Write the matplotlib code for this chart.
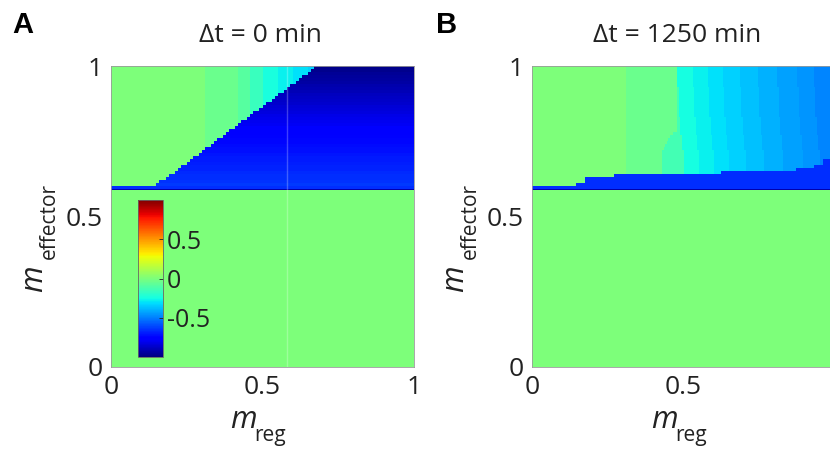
import numpy as np
import matplotlib
matplotlib.use('Agg')
import matplotlib.pyplot as plt

plt.rcParams['font.family'] = ['Open Sans', 'DejaVu Sans']

# ---------------- data ----------------
titles = ['\u0394t = 0 min', '\u0394t = 1250 min']
panel_letters = ['A', 'B']
x_label_main, x_label_sub = 'm', 'reg'
y_label_main, y_label_sub = 'm', 'effector'
tick_vals = [0, 0.5, 1]
tick_labels = ['0', '0.5', '1']
cbar_ticks = [-0.5, 0, 0.5]
cbar_labels = ['-0.5', '0', '0.5']

lower_value = 0.0          # m_effector below threshold
line_value = -0.92         # thin dark row at threshold
stripe_value = -0.66       # blue stripe just above threshold

# Panel A: rows 0.60..1.00 in 0.01 steps (bottom -> top)
A_boundary = [0.15, 0.16, 0.18, 0.19, 0.21, 0.22, 0.23, 0.25, 0.26, 0.27,
              0.29, 0.30, 0.31, 0.33, 0.34, 0.35, 0.37, 0.38, 0.39, 0.41,
              0.42, 0.43, 0.45, 0.46, 0.47, 0.49, 0.50, 0.51, 0.53, 0.54,
              0.55, 0.57, 0.58, 0.59, 0.61, 0.62, 0.63, 0.65, 0.66, 0.67]
A_blue = [-0.64, -0.65, -0.66, -0.66, -0.67, -0.68, -0.68, -0.69, -0.70, -0.70,
          -0.71, -0.72, -0.72, -0.73, -0.74, -0.74, -0.75, -0.76, -0.77, -0.78,
          -0.79, -0.80, -0.81, -0.82, -0.83, -0.84, -0.85, -0.86, -0.87, -0.88,
          -0.89, -0.90, -0.91, -0.92, -0.93, -0.94, -0.95, -0.96, -0.97, -0.98]
A_band_edges = [0.31, 0.42, 0.46, 0.50, 0.55, 0.60, 0.65]
A_band_values = [0.0, -0.04, -0.09, -0.16, -0.24, -0.28, -0.31, -0.34]

# Panel B
B_band_edges = [0.31, 0.48, 0.53, 0.58, 0.63, 0.685, 0.745, 0.81, 0.875, 0.93]
B_band_values = [0.0, -0.04, -0.25, -0.28, -0.31, -0.34, -0.37, -0.40, -0.43, -0.46, -0.49]
B_shift = [0.020, 0.020, 0.020, 0.020, 0.020, 0.020, 0.020, 0.020, 0.020, 0.020,
           0.019, 0.018, 0.017, 0.016, 0.015, 0.014, 0.013, 0.012, 0.011, 0.010,
           0.009, 0.008, 0.008, 0.007, 0.007, 0.006, 0.006, 0.005, 0.005, 0.004,
           0.004, 0.003, 0.003, 0.002, 0.002, 0.001, 0.001, 0.000, 0.000, 0.000]
B_green_end = [0.43, 0.43, 0.43, 0.43, 0.43, 0.43, 0.43, 0.43, 0.43, 0.43,
               0.43, 0.43, 0.435, 0.44, 0.445, 0.45, 0.455, 0.465, 0.48, 0.48,
               0.48, 0.48, 0.48, 0.48, 0.48, 0.48, 0.48, 0.48, 0.48, 0.48,
               0.48, 0.48, 0.48, 0.48, 0.48, 0.48, 0.48, 0.48, 0.48, 0.48]
B_mid_value = -0.14
B_stair_edges = [0.147, 0.175, 0.268, 0.626, 0.868, 0.928, 0.961]
B_stair_tops = [0.60, 0.61, 0.628, 0.64, 0.65, 0.66, 0.675, 0.69]
B_stair_value = -0.66

# ---------------- grid ----------------
xe = np.linspace(0, 1, 201)
xc = 0.5 * (xe[:-1] + xe[1:])
top_rows = np.round(np.arange(0.60, 1.0001, 0.01), 2)
ye = np.concatenate([[0.0, 0.588, 0.592], top_rows])
yc = 0.5 * (ye[:-1] + ye[1:])


def build_A():
    Z = np.zeros((len(ye) - 1, len(xc)))
    Z[0, :] = lower_value
    Z[1, :] = line_value
    Z[2, :] = stripe_value
    band = np.array(A_band_values)[np.digitize(xc, A_band_edges)]
    for i in range(len(A_boundary)):
        row = band.copy()
        row[xc >= A_boundary[i]] = A_blue[i]
        Z[3 + i, :] = row
    return Z


def build_B():
    Z = np.zeros((len(ye) - 1, len(xc)))
    Z[0, :] = lower_value
    Z[1, :] = line_value
    Z[2, :] = stripe_value
    base = np.array(B_band_values)[np.digitize(xc, B_band_edges)]
    stair_top = np.array(B_stair_tops)[np.digitize(xc, B_stair_edges)]
    for i in range(len(B_shift)):
        shifted = np.array(B_band_values)[np.digitize(xc - B_shift[i], B_band_edges)]
        row = np.where(xc < B_green_end[i], base, shifted)
        mid = (xc >= B_green_end[i]) & (row == B_band_values[1])
        row[mid] = B_mid_value
        row[yc[3 + i] < stair_top] = B_stair_value
        Z[3 + i, :] = row
    return Z


panels = [build_A(), build_B()]

# ---------------- figure ----------------
fig = plt.figure(figsize=(8.3, 4.5), dpi=100)
W, H = 830.0, 450.0
ax_left = [111, 532]
ax_w, ax_top, ax_bot = 303, 66, 367
title_x = [260, 677]
letter_x = [12, 436]
txt = '#222222'


def fx(px):
    return px / W


def fy(py):
    return 1 - py / H


for k, Z in enumerate(panels):
    ax = fig.add_axes([fx(ax_left[k]), fy(ax_bot), ax_w / W, (ax_bot - ax_top) / H])
    mesh = ax.pcolormesh(xe, ye, Z, cmap='jet', vmin=-1, vmax=1, shading='flat')
    if k == 0:
        ax.axvline(0.581, color='white', alpha=0.25, lw=1)
        mesh_A = mesh
    ax.set_xlim(0, 1)
    ax.set_ylim(0, 1)
    ax.set_xticks(tick_vals)
    ax.set_xticklabels(tick_labels)
    ax.set_yticks(tick_vals)
    ax.set_yticklabels(tick_labels)
    ax.tick_params(length=0, labelsize=19, colors=txt)
    ax.tick_params(axis='x', pad=6)
    ax.tick_params(axis='y', pad=6)
    for s in ax.spines.values():
        s.set_color('#9a9a9a')
        s.set_linewidth(0.6)

    # x label: italic m with lowered subscript
    c = ax_left[k] + ax_w / 2
    fig.text(fx(c - 32), fy(428), x_label_main, ha='left', va='baseline',
             fontsize=22, style='italic', color=txt)
    fig.text(fx(c - 8), fy(441), x_label_sub, ha='left', va='baseline',
             fontsize=15, color=txt)
    # y label (rotated)
    fig.text(fx(ax_left[k] - 69), fy(292), y_label_main, ha='left', va='baseline',
             rotation=90, rotation_mode='anchor', fontsize=22, style='italic', color=txt)
    fig.text(fx(ax_left[k] - 56), fy(259), y_label_sub, ha='left', va='baseline',
             rotation=90, rotation_mode='anchor', fontsize=15, color=txt)

    fig.text(fx(title_x[k]), fy(42), titles[k], ha='center', va='baseline',
             fontsize=19, color=txt)
    fig.text(fx(letter_x[k]), fy(33), panel_letters[k], ha='left', va='baseline',
             fontsize=21, fontweight='bold', family=['Liberation Sans', 'DejaVu Sans'],
             color='black')

cax = fig.add_axes([fx(138), fy(357), 25 / W, 157 / H])
cb = fig.colorbar(mesh_A, cax=cax, ticks=cbar_ticks)
cb.ax.set_yticklabels(cbar_labels)
cb.ax.tick_params(direction='in', length=3, width=0.6, labelsize=18, colors=txt, pad=3)
cb.outline.set_edgecolor('#666666')
cb.outline.set_linewidth(0.6)

fig.savefig('out.png', dpi=100)
